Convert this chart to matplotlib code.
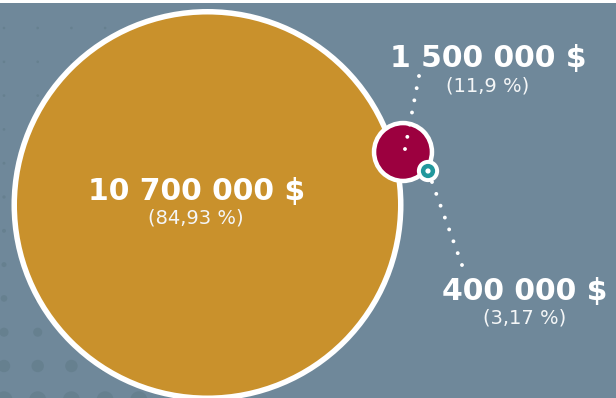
import numpy as np
import matplotlib.pyplot as plt
from matplotlib.patches import Circle, Rectangle

# data
amounts = [10700000, 1500000, 400000]
amount_labels = ['10 700 000 $', '1 500 000 $', '400 000 $']
share_labels = ['(84,93 %)', '(11,9 %)', '(3,17 %)']
colors = ['#c9912c', '#9c003f', '#22979c']

bg = '#6f889a'
W, H = 616, 398

fig = plt.figure(figsize=(W / 100, H / 100), dpi=100)
fig.patch.set_facecolor(bg)
ax = fig.add_axes([0, 0, 1, 1])
ax.set_xlim(0, W)
ax.set_ylim(H, 0)
ax.set_aspect('equal')
ax.axis('off')

# faint dot pattern lower left
for yy in np.arange(28, 410, 33.8):
    r = 1.3 + 4.9 * ((yy - 28) / 338) ** 4
    for xx in np.arange(4, 140, 33.7):
        ax.add_patch(Circle((xx, yy), r, color='#66808f', lw=0, zorder=1))

# white strip at top
ax.add_patch(Rectangle((0, 0), W, 3, color='white', lw=0, zorder=10))

# bubbles: radius proportional to amount
scale = 190.5 / amounts[0]
centers = [(207.5, 205), (403, 152), (428, 171)]
borders = [5.5, 4.5, 4]
for i, (c, a) in enumerate(zip(centers, amounts)):
    r = a * scale
    ax.add_patch(Circle(c, r + borders[i], color='white', lw=0, zorder=2 + i))
    ax.add_patch(Circle(c, r, color=colors[i], lw=0, zorder=2.5 + i))
ax.add_patch(Circle(centers[2], 2.6, color='white', lw=0, zorder=6))

# dotted leaders
def leader(p0, p1, n):
    xs = np.linspace(p0[0], p1[0], n)
    ys = np.linspace(p0[1], p1[1], n)
    for x, y in zip(xs, ys):
        ax.add_patch(Circle((x, y), 1.9, color='white', lw=0, zorder=7))

leader((405, 149), (419, 76), 7)
leader((432, 182), (462, 265), 8)

# labels
pos_main = [(197, 200), (488, 67), (525, 300)]
pos_sub = [(196, 223), (488, 91), (525, 323)]
for i in range(3):
    ax.text(*pos_main[i], amount_labels[i], color='white', fontsize=21.5,
            fontweight='bold', ha='center', va='baseline', zorder=8,
            family='DejaVu Sans')
    ax.text(*pos_sub[i], share_labels[i], color='#f4f6f7', fontsize=14,
            fontweight='normal', ha='center', va='baseline', zorder=8,
            family='DejaVu Sans')

fig.savefig('out.png', dpi=100, facecolor=bg)
